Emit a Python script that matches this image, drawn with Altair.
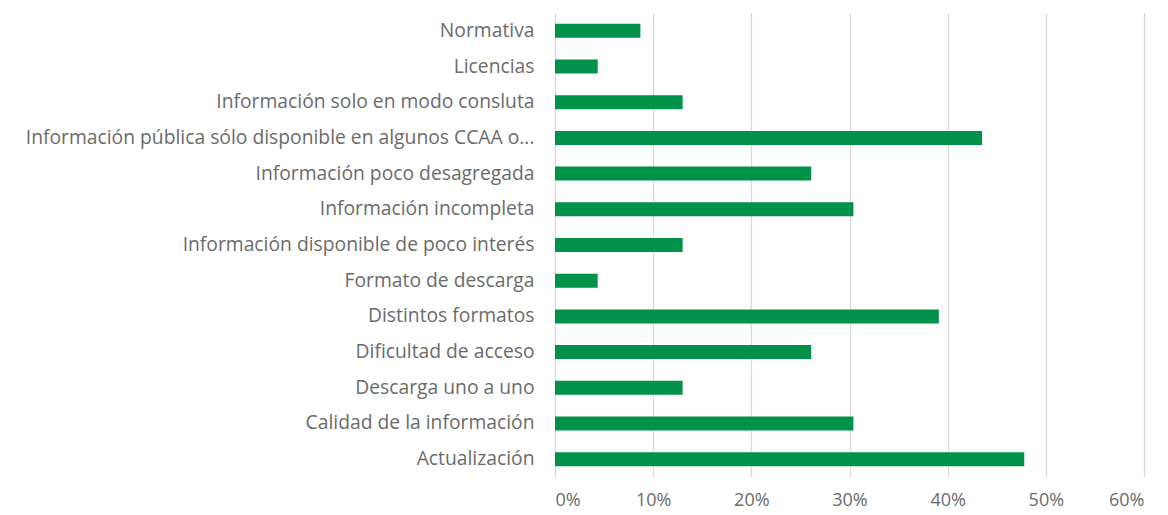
import altair as alt
import pandas as pd

categories = [
    "Normativa",
    "Licencias",
    "Información solo en modo consluta",
    "Información pública sólo disponible en algunos CCAA o...",
    "Información poco desagregada",
    "Información incompleta",
    "Información disponible de poco interés",
    "Formato de descarga",
    "Distintos formatos",
    "Dificultad de acceso",
    "Descarga uno a uno",
    "Calidad de la información",
    "Actualización",
]
values = [0.087, 0.0435, 0.13, 0.435, 0.261, 0.304, 0.13, 0.0435, 0.391, 0.261, 0.13, 0.304, 0.478]
x_ticks = [0, 0.1, 0.2, 0.3, 0.4, 0.5, 0.6]

df = pd.DataFrame({"cat": categories, "val": values})

chart = alt.Chart(df).mark_bar(color="#00914A", size=14).encode(
    x=alt.X("val:Q", scale=alt.Scale(domain=[0, 0.6], nice=False),
            axis=alt.Axis(format=".0%", values=x_ticks, title=None, domain=False, ticks=False,
                          grid=True, gridColor="#d9d9d9", gridWidth=1.3,
                          labelFont="Open Sans", labelFontSize=18, labelColor="#6b6b6b",
                          labelPadding=14)),
    y=alt.Y("cat:N", sort=categories, scale=alt.Scale(paddingInner=0, paddingOuter=0),
            axis=alt.Axis(title=None, domain=False, ticks=False, labelFont="Open Sans",
                          labelFontSize=19.3, labelColor="#6b6b6b", labelLimit=1000,
                          labelPadding=21)),
).properties(
    width=589, height=464,
    autosize=alt.AutoSizeParams(type="none"),
    padding={"left": 547, "top": 5, "right": 16, "bottom": 37},
).configure_view(stroke=None)

chart.save("out.html", embed_options={"renderer": "svg", "actions": False})
